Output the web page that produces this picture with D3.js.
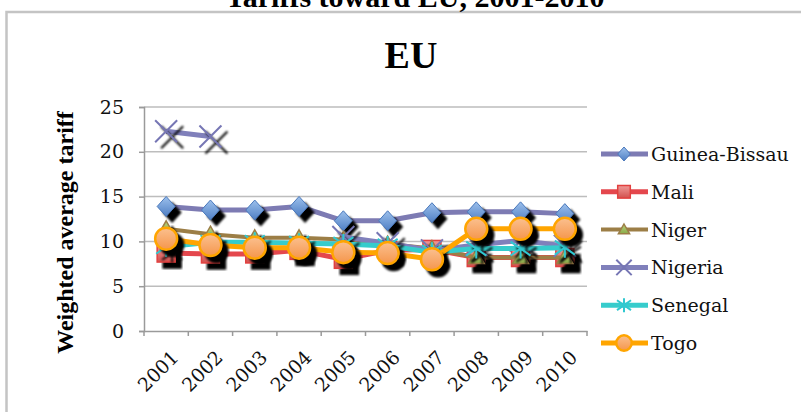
<!DOCTYPE html>
<html>
<head>
<meta charset="utf-8">
<script src="https://cdn.jsdelivr.net/npm/d3@7"></script>
<style>
  html, body { margin: 0; padding: 0; background: #fff; }
  svg { display: block; }
</style>
</head>
<body>
<script>
// Weighted average tariffs applied toward the EU, by country
const years = ["2001","2002","2003","2004","2005","2006","2007","2008","2009","2010"];
const guineaBissau = [13.9, 13.5, 13.5, 13.9, 12.3, 12.3, 13.2, 13.3, 13.3, 13.1];
const mali         = [8.7, 8.6, 8.6, 9.0, 8.0, 9.0, 9.1, 8.2, 8.2, 8.2];
const niger        = [11.4, 10.8, 10.4, 10.4, 10.2, 9.7, 9.2, 8.2, 8.2, 8.2];
const nigeria      = [22.3, 21.7, null, null, 10.5, 9.8, 9.0, 9.6, 10.1, 9.5];
const senegal      = [9.4, 9.9, 9.9, 9.8, 9.7, 9.5, 8.8, 9.2, 9.2, 9.3];
const togo         = [10.3, 9.6, 9.3, 9.3, 8.8, 8.7, 8.0, 11.4, 11.4, 11.4];
const yTicks = [0, 5, 10, 15, 20, 25];

const series = [
  { name: "Guinea-Bissau", values: guineaBissau, line: "#7d7bb3", marker: "diamond", width: 5 },
  { name: "Mali",          values: mali,         line: "#e4474d", marker: "square",  width: 5 },
  { name: "Niger",         values: niger,        line: "#9c7e46", marker: "triangle",width: 4 },
  { name: "Nigeria",       values: nigeria,      line: "#8080bb", marker: "cross",   width: 5 },
  { name: "Senegal",       values: senegal,      line: "#36cccc", marker: "star",    width: 5 },
  { name: "Togo",          values: togo,         line: "#ffa500", marker: "circle",  width: 5 }
];

const W = 801, H = 412;
const svg = d3.select("body").append("svg").attr("width", W).attr("height", H);

const defs = svg.append("defs");
function grad(id, c1, c2) {
  const g = defs.append("linearGradient").attr("id", id).attr("x1", 0).attr("y1", 0).attr("x2", 0).attr("y2", 1);
  g.append("stop").attr("offset", "0%").attr("stop-color", c1);
  g.append("stop").attr("offset", "100%").attr("stop-color", c2);
}
grad("gDiamond", "#9cc0ec", "#4f7fc4");
grad("gSquare", "#f09a98", "#d2504e");
grad("gTriangle", "#b9d27e", "#8aab48");
grad("gCircle", "#fbc08f", "#f5964c");
defs.append("filter").attr("id", "soft").append("feGaussianBlur").attr("stdDeviation", 0.8);

// chart frame
svg.append("rect").attr("x", 6.5).attr("y", 12).attr("width", 900).attr("height", 500)
  .attr("fill", "#fff").attr("stroke", "#c4c4c4").attr("stroke-width", 2.5);

// overall heading (runs off the top edge)
svg.append("text").attr("x", 415).attr("y", 7).attr("text-anchor", "middle")
  .attr("font-family", "Liberation Serif").attr("font-weight", "bold").attr("font-size", 30)
  .text("Tariffs toward EU, 2001-2010");

svg.append("text").attr("x", 411).attr("y", 68).attr("text-anchor", "middle")
  .attr("font-family", "Liberation Serif").attr("font-weight", "bold").attr("font-size", 38)
  .text("EU");

const plotLeft = 144, plotRight = 587, plotTop = 107, plotBottom = 331;
const x = d3.scaleBand().domain(years).range([plotLeft, plotRight]);
const y = d3.scaleLinear().domain([0, 25]).range([plotBottom, plotTop]);
const cx = d => x(d) + x.bandwidth() / 2;

// gridlines
svg.append("g").selectAll("line").data(yTicks.filter(t => t > 0)).join("line")
  .attr("x1", plotLeft).attr("x2", plotRight).attr("y1", d => y(d)).attr("y2", d => y(d))
  .attr("stroke", "#bdbdbd").attr("stroke-width", 1.5);

// y axis
const yAxis = svg.append("g").attr("transform", `translate(${plotLeft},0)`)
  .call(d3.axisLeft(y).tickValues(yTicks).tickSize(5).tickPadding(15));
yAxis.select(".domain").attr("stroke", "#9a9a9a").attr("stroke-width", 1.5);
yAxis.selectAll(".tick line").attr("stroke", "#9a9a9a").attr("stroke-width", 1.5);
yAxis.selectAll("text").attr("font-family", "DejaVu Serif").attr("font-size", 19).attr("fill", "#111");

// x axis
const xAxis = svg.append("g").attr("transform", `translate(0,${plotBottom})`)
  .call(d3.axisBottom(x).tickSize(0).tickPadding(0));
xAxis.select(".domain").attr("stroke", "#9a9a9a").attr("stroke-width", 1.5);
xAxis.selectAll("text")
  .attr("font-family", "DejaVu Serif").attr("font-size", 19).attr("fill", "#111")
  .attr("text-anchor", "end")
  .attr("transform", "translate(9,23) rotate(-45)")
  .attr("dy", "0.35em").attr("y", 0);
// category boundary ticks
const bounds = years.map(d => x(d)).concat([plotRight]);
xAxis.append("g").selectAll("line").data(bounds).join("line")
  .attr("x1", d => d).attr("x2", d => d).attr("y1", 0).attr("y2", 5)
  .attr("stroke", "#9a9a9a").attr("stroke-width", 1.5);

svg.append("text")
  .attr("transform", `translate(73,${(117 + 348) / 2}) rotate(-90)`)
  .attr("text-anchor", "middle")
  .attr("font-family", "Liberation Serif").attr("font-weight", "bold").attr("font-size", 24)
  .text("Weighted average tariff");

// marker drawing
function drawMarker(g, type, k, shadow) {
  if (type === "diamond") {
    g.append("path").attr("d", `M0,${-10*k}L${9*k},0L0,${10*k}L${-9*k},0Z`)
      .attr("fill", shadow ? "#000" : "url(#gDiamond)")
      .attr("stroke", shadow ? "#000" : "#4a78bb").attr("stroke-width", 1);
  } else if (type === "square") {
    g.append("rect").attr("x", -9*k).attr("y", -9*k).attr("width", 18*k).attr("height", 18*k)
      .attr("fill", shadow ? "#000" : "url(#gSquare)")
      .attr("stroke", shadow ? "#000" : "#e2403f").attr("stroke-width", 1.5);
  } else if (type === "triangle") {
    g.append("path").attr("d", `M0,${-8*k}L${8*k},${6*k}L${-8*k},${6*k}Z`)
      .attr("fill", shadow ? "#000" : "url(#gTriangle)")
      .attr("stroke", shadow ? "#000" : "#9c7e46").attr("stroke-width", 1.5);
  } else if (type === "cross") {
    const r = 11 * k;
    g.append("path").attr("d", `M${-r},${-r}L${r},${r}M${-r},${r}L${r},${-r}`)
      .attr("stroke", shadow ? "#000" : "#7676b4").attr("stroke-width", 2);
  } else if (type === "star") {
    const r = 10 * k;
    g.append("path").attr("d", `M${-r},${-r*0.7}L${r},${r*0.7}M${-r},${r*0.7}L${r},${-r*0.7}M0,${-r}L0,${r}`)
      .attr("stroke", shadow ? "#000" : "#30c8d0").attr("stroke-width", 2);
  } else if (type === "circle") {
    g.append("circle").attr("r", 11 * k)
      .attr("fill", shadow ? "#000" : "url(#gCircle)")
      .attr("stroke", shadow ? "#000" : "#ffa500").attr("stroke-width", 2.5);
  }
}

const line = d3.line().defined(d => d.v != null).x(d => cx(d.year)).y(d => y(d.v));

series.forEach(s => {
  const pts = years.map((yr, i) => ({ year: yr, v: s.values[i] }));
  const g = svg.append("g");
  g.append("path").datum(pts).attr("d", line)
    .attr("fill", "none").attr("stroke", s.line).attr("stroke-width", s.width)
    .attr("stroke-linejoin", "round");
  const valid = pts.filter(d => d.v != null);
  valid.forEach(d => {
    const sh = g.append("g").attr("transform", `translate(${cx(d.year) + 6},${y(d.v) + 6})`)
      .attr("filter", "url(#soft)");
    drawMarker(sh, s.marker, 1, true);
  });
  valid.forEach(d => {
    const m = g.append("g").attr("transform", `translate(${cx(d.year)},${y(d.v)})`);
    drawMarker(m, s.marker, 1, false);
  });
});

// legend
const legend = svg.append("g");
series.forEach((s, i) => {
  const ly = 154 + i * 37.8;
  const row = legend.append("g").attr("transform", `translate(0,${ly})`);
  row.append("line").attr("x1", 601).attr("x2", 648).attr("y1", 0).attr("y2", 0)
    .attr("stroke", s.line).attr("stroke-width", s.width);
  const m = row.append("g").attr("transform", "translate(624,0)");
  drawMarker(m, s.marker, 0.7, false);
  row.append("text").attr("x", 651).attr("y", 7)
    .attr("font-family", "DejaVu Serif").attr("font-size", 19).attr("fill", "#111")
    .text(s.name);
});
</script>
</body>
</html>
